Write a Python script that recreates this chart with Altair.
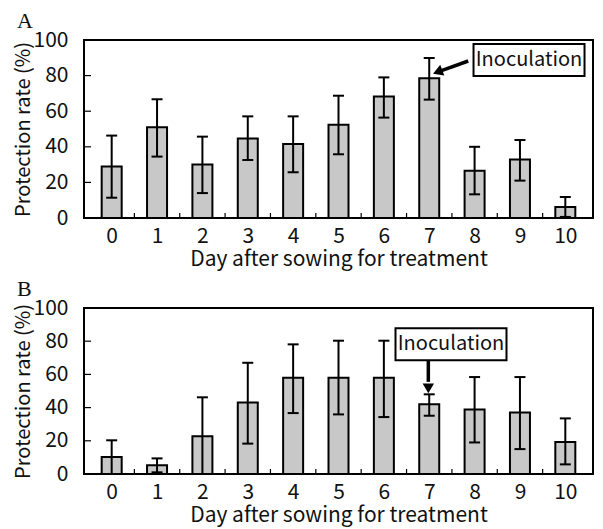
import altair as alt
import pandas as pd

FONT = "Noto Sans CJK JP"

days = list(range(11))
a_mean = [29.0, 51.0, 30.0, 44.6, 41.6, 52.4, 68.2, 78.5, 26.6, 32.8, 6.2]
a_upper = [46.3, 66.7, 45.7, 57.1, 57.1, 68.7, 79.0, 89.9, 40.0, 43.8, 11.8]
a_lower = [11.4, 34.5, 14.0, 32.6, 25.7, 35.8, 56.4, 66.5, 13.3, 21.0, 0.6]
b_mean = [10.2, 5.2, 22.7, 43.0, 58.0, 58.0, 58.0, 42.0, 38.8, 37.1, 19.3]
b_upper = [20.3, 9.4, 46.2, 67.0, 78.1, 80.3, 80.3, 48.0, 58.4, 58.4, 33.5]
b_lower = [0.0, 1.0, 0.0, 18.3, 36.7, 35.9, 34.3, 35.1, 19.0, 15.0, 5.8]
y_ticks = [0, 20, 40, 60, 80, 100]
inner_y = [20, 40, 60, 80]
boundaries = [0.5, 1.5, 2.5, 3.5, 4.5, 5.5, 6.5, 7.5, 8.5, 9.5]

ann_label = "Inoculation"
# annotation anchors in data units (day, %)
a_box = (9.2, 88.8)
a_shaft = (7.86, 88.2, 7.27, 82.8)
a_head = (7.22, 82.4)
b_box = (7.48, 78.2)
b_shaft = (6.98, 69.0, 6.98, 55.5)
b_head = (6.98, 52.6)


def panel(letter, mean, lower, upper, box, shaft, head, head_angle, W, H):
    xs = alt.Scale(domain=[-0.5, 10.5], nice=False, zero=False)
    ys = alt.Scale(domain=[0, 100], nice=False)
    xaxis = alt.Axis(values=days, format="d", tickSize=0, domain=False, grid=False,
                     labelFont=FONT, labelFontSize=21, labelPadding=7, labelColor="#111",
                     labelFlush=False, title="Day after sowing for treatment",
                     titleFont=FONT, titleFontSize=21, titleFontWeight="normal",
                     titleColor="#111", titlePadding=2)
    yaxis = alt.Axis(values=y_ticks, tickSize=0, domain=False, grid=False,
                     labelFont=FONT, labelFontSize=21, labelPadding=16, labelColor="#111",
                     labelFlush=False, title="Protection rate (%)",
                     titleFont=FONT, titleFontSize=20, titleFontWeight="normal",
                     titleColor="#111", titlePadding=0)

    def X(f):
        return alt.X(f, scale=xs, axis=xaxis)

    def Y(f):
        return alt.Y(f, scale=ys, axis=yaxis)

    df = pd.DataFrame({"day": days, "mean": mean, "lower": lower, "upper": upper})
    base = alt.Chart(df)
    bars = base.mark_bar(size=20, fill="#c8c8c8", stroke="black", strokeWidth=2,
                         orient="vertical").encode(x=X("day:Q"), y=Y("mean:Q"), y2=alt.datum(0))
    err = base.mark_rule(color="black", strokeWidth=2).encode(
        x=X("day:Q"), y=Y("lower:Q"), y2="upper:Q")
    cap_u = base.mark_point(shape="M-1,0H1", size=121, strokeWidth=2, color="black",
                            filled=False, opacity=1).encode(x=X("day:Q"), y=Y("upper:Q"))
    cap_l = base.mark_point(shape="M-1,0H1", size=121, strokeWidth=2, color="black",
                            filled=False, opacity=1).encode(x=X("day:Q"), y=Y("lower:Q"))

    xt = alt.Chart(pd.DataFrame({"b": boundaries})).mark_rule(
        color="black", strokeWidth=1.2).encode(x=X("b:Q"), y=alt.value(H), y2=alt.value(H - 5))
    yt = alt.Chart(pd.DataFrame({"v": inner_y})).mark_rule(
        color="black", strokeWidth=1.2).encode(y=Y("v:Q"), x=alt.value(0), x2=alt.value(7))

    boxdf = pd.DataFrame({"x": [box[0]], "y": [box[1]], "t": [ann_label]})
    boxm = alt.Chart(boxdf).mark_point(shape="M-1,-0.288H1V0.288H-1Z", size=12321,
                                       fill="white", stroke="black", strokeWidth=2,
                                       filled=True, opacity=1, fillOpacity=1).encode(
        x=X("x:Q"), y=Y("y:Q"))
    txt = alt.Chart(boxdf).mark_text(font=FONT, fontSize=20, align="center",
                                     baseline="middle", color="#111").encode(
        x=X("x:Q"), y=Y("y:Q"), text="t:N")
    shdf = pd.DataFrame({"x1": [shaft[0]], "y1": [shaft[1]], "x2": [shaft[2]], "y2": [shaft[3]]})
    sh = alt.Chart(shdf).mark_rule(color="black", strokeWidth=3.5).encode(
        x=X("x1:Q"), y=Y("y1:Q"), x2="x2:Q", y2="y2:Q")
    hd = alt.Chart(pd.DataFrame({"x": [head[0]], "y": [head[1]]})).mark_point(
        shape="triangle", angle=head_angle, size=130, filled=True, color="black",
        opacity=1).encode(x=X("x:Q"), y=Y("y:Q"))

    lab = alt.Chart(pd.DataFrame({"t": [letter]})).mark_text(
        font="Liberation Serif", fontSize=22, align="left", baseline="alphabetic",
        color="#111").encode(text="t:N", x=alt.value(-67), y=alt.value(-12))

    return alt.layer(bars, err, cap_u, cap_l, xt, yt, sh, hd, boxm, txt, lab).properties(
        width=W, height=H)


pa = panel("A", a_mean, a_lower, a_upper, a_box, a_shaft, a_head, 249, 509, 178)
pb = panel("B", b_mean, b_lower, b_upper, b_box, b_shaft, b_head, 180, 509, 166)

chart = alt.vconcat(pa, pb, spacing=7).resolve_scale(
    x="independent", y="independent").properties(
    padding={"left": 4, "top": 1, "right": 0, "bottom": 2},
    background="white").configure_view(stroke="black", strokeWidth=2)

chart.save("out.html", embed_options={"renderer": "svg", "actions": False})
